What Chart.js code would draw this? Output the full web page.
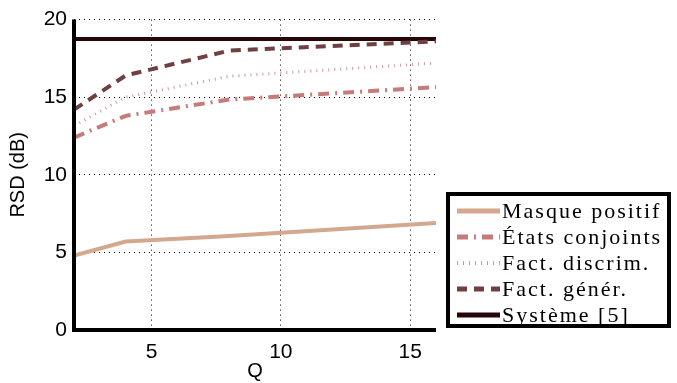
<!DOCTYPE html>
<html>
<head>
<meta charset="utf-8">
<script src="https://cdn.jsdelivr.net/npm/chart.js@4.4.1/dist/chart.umd.min.js"></script>
<style>
  html, body { margin: 0; padding: 0; background: #fff; }
  #wrap { width: 677px; height: 383px; }
</style>
</head>
<body>
<div id="wrap"><canvas id="myChart" width="677" height="383"></canvas></div>
<script>
const ctx = document.getElementById('myChart');

// Q values (number of components)
var qValues = [2, 4, 8, 16];
var masquePositif = [4.8, 5.7, 6.05, 6.9];
var etatsConjoints = [12.4, 13.8, 14.85, 15.65];
var factDiscrim = [13.15, 15.0, 16.35, 17.2];
var factGener = [14.2, 16.4, 18.0, 18.6];
var systeme5 = [18.75, 18.75, 18.75, 18.75];

var seriesNames = ['Masque positif', 'États conjoints', 'Fact. discrim.', 'Fact. génér.', 'Système [5]'];
var xTicks = [5, 10, 15];
var yTicks = [0, 5, 10, 15, 20];

function pts(vals) {
  return qValues.map(function (q, i) { return { x: q, y: vals[i] }; });
}

// thick axis lines (left + bottom) like the matlab figure
const thickAxes = {
  id: 'thickAxes',
  afterDatasetsDraw(chart) {
    const c = chart.ctx;
    const a = chart.chartArea;
    c.save();
    c.strokeStyle = '#000';
    c.lineWidth = 4;
    c.setLineDash([]);
    c.beginPath();
    c.moveTo(a.left, a.top);
    c.lineTo(a.left, a.bottom);
    c.lineTo(a.right, a.bottom);
    c.stroke();
    c.restore();
  }
};

// legend box drawn by hand
const boxLegend = {
  id: 'boxLegend',
  afterDraw(chart) {
    const c = chart.ctx;
    const left = 448, top = 194, w = 221, h = 132;
    c.save();
    c.fillStyle = '#fff';
    c.fillRect(left, top, w, h);
    c.lineWidth = 4;
    c.strokeStyle = '#000';
    c.strokeRect(left, top, w, h);
    c.font = '22px "Liberation Serif", serif';
    c.letterSpacing = '2px';
    c.textBaseline = 'middle';
    chart.data.datasets.forEach(function (ds, i) {
      const y = top + 17 + i * 26;
      c.beginPath();
      c.setLineDash(ds.borderDash || []);
      c.lineWidth = ds.borderWidth + 1;
      c.strokeStyle = ds.borderColor;
      c.moveTo(left + 9, y);
      c.lineTo(left + 52, y);
      c.stroke();
      c.setLineDash([]);
      c.fillStyle = '#000';
      c.fillText(ds.label, left + 54, y + 1);
    });
    c.restore();
  }
};

Chart.defaults.font.family = '"Liberation Sans", Arial, sans-serif';
Chart.defaults.color = '#000';

new Chart(ctx, {
  type: 'line',
  data: {
    datasets: [
      { label: seriesNames[0], data: pts(masquePositif), borderColor: '#D3A88F', borderWidth: 4, borderDash: [] },
      { label: seriesNames[1], data: pts(etatsConjoints), borderColor: '#C77A7A', borderWidth: 4, borderDash: [11, 6, 2, 6] },
      { label: seriesNames[2], data: pts(factDiscrim), borderColor: '#C99A9E', borderWidth: 3, borderDash: [1, 5] },
      { label: seriesNames[3], data: pts(factGener), borderColor: '#6E4042', borderWidth: 4, borderDash: [10, 7] },
      { label: seriesNames[4], data: pts(systeme5), borderColor: '#260606', borderWidth: 4, borderDash: [] }
    ]
  },
  options: {
    responsive: false,
    animation: false,
    elements: { point: { radius: 0 }, line: { tension: 0 } },
    layout: { padding: { top: 17, right: 241, left: 0, bottom: 0 } },
    plugins: {
      legend: { display: false },
      tooltip: { enabled: false }
    },
    scales: {
      x: {
        type: 'linear',
        min: 2,
        max: 16,
        afterBuildTicks: function (s) { s.ticks = xTicks.map(function (v) { return { value: v }; }); },
        afterFit: function (s) { s.height = 53; },
        ticks: { font: { size: 21 }, padding: 10, maxRotation: 0 },
        grid: { color: '#000', lineWidth: 1, drawTicks: false },
        border: { display: false, dash: [1, 4] },
        title: { display: true, text: 'Q', font: { size: 20 }, padding: { top: -6, bottom: 0 } }
      },
      y: {
        min: 0,
        max: 20,
        afterBuildTicks: function (s) { s.ticks = yTicks.map(function (v) { return { value: v }; }); },
        afterFit: function (s) { s.width = 74; },
        ticks: { font: { size: 21 }, padding: 7 },
        grid: { color: '#000', lineWidth: 1, drawTicks: false },
        border: { display: false, dash: [1, 4] },
        title: { display: true, text: 'RSD (dB)', font: { size: 20 }, padding: { top: 6, bottom: 0 } }
      }
    }
  },
  plugins: [thickAxes, boxLegend]
});
</script>
</body>
</html>
